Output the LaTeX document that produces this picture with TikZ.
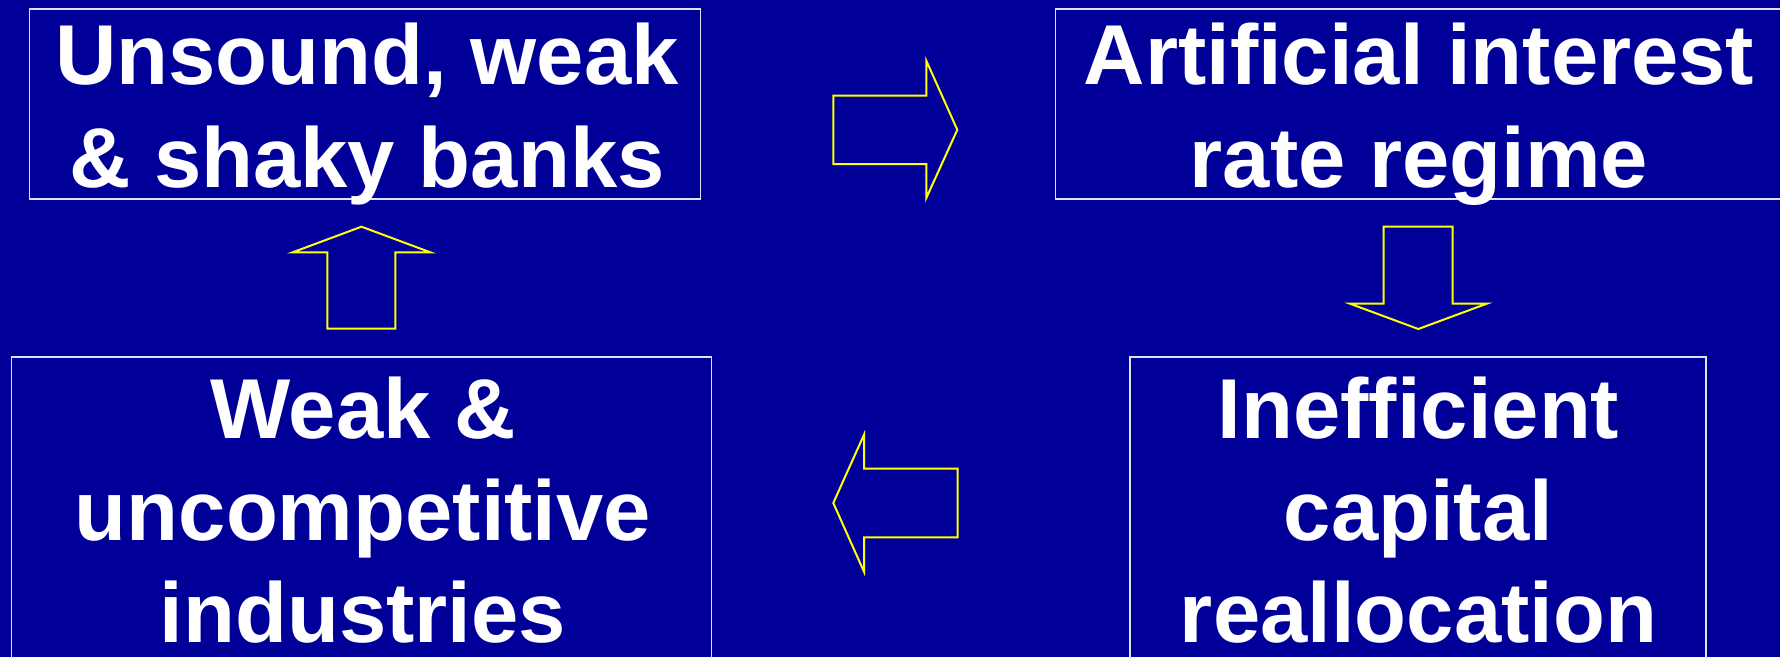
\documentclass[tikz,border=0pt]{standalone}
\usepackage{fontspec}
\setmainfont{Liberation Sans}
\definecolor{bgblue}{RGB}{0,0,153}
\definecolor{boxline}{RGB}{225,225,240}
\definecolor{arrowyellow}{RGB}{255,255,0}
\begin{document}
\begin{tikzpicture}[x=1pt,y=-1pt,
  box/.style={draw=boxline,line width=1.5pt,rectangle,inner sep=0pt},
  txt/.style={text=white,inner sep=0pt,anchor=base,font=\fontsize{85}{102}\selectfont\bfseries},
  blockarrow/.style={draw=arrowyellow,line width=2pt,line join=miter}]
\fill[bgblue] (0,0) rectangle (1780,657);
\useasboundingbox (0,0) rectangle (1780,657);
% boxes
\node[box,minimum width=670.9pt,minimum height=189.7pt] (banks) at (365.0,104.0) {};
\node[box,minimum width=727pt,minimum height=189.7pt] (rate) at (1419.2,104.0) {};
\node[box,minimum width=700pt,minimum height=320pt] (ind) at (361.4,517.0) {};
\node[box,minimum width=576.3pt,minimum height=320pt] (cap) at (1417.9,517.0) {};
% texts
\node[txt] (t1a) at (367,84) {Unsound, weak};
\node[txt] (t1b) at (367,187) {\& shaky banks};
\node[txt] (t2a) at (1419,84) {Artificial interest};
\node[txt] (t2b) at (1419,187) {rate regime};
\node[txt] (t3a) at (363,438.5) {Weak \&};
\node[txt] (t3b) at (363,540.5) {uncompetitive};
\node[txt] (t3c) at (363,642) {industries};
\node[txt] (t4a) at (1418.5,438.5) {Inefficient};
\node[txt] (t4b) at (1418.5,540.5) {capital};
\node[txt] (t4c) at (1418.5,642) {reallocation};
% block arrows
\draw[blockarrow] (833.3,95.7) -- (926.3,95.7) -- (926.3,60.7) -- (957.3,129.8) -- (926.3,198) -- (926.3,164) -- (833.3,164) -- cycle;
\draw[blockarrow] (1383.7,226.7) -- (1452.7,226.7) -- (1452.7,303.7) -- (1486.7,303.7) -- (1418.3,329) -- (1350,303.7) -- (1383.7,303.7) -- cycle;
\draw[blockarrow] (957.7,468.7) -- (864,468.7) -- (864,434.7) -- (833.3,503) -- (864,571.7) -- (864,537.3) -- (957.7,537.3) -- cycle;
\draw[blockarrow] (327.3,328.7) -- (327.3,252.3) -- (292.7,252.3) -- (361.5,226.7) -- (430.3,252.3) -- (395.3,252.3) -- (395.3,328.7) -- cycle;
\end{tikzpicture}
\end{document}
